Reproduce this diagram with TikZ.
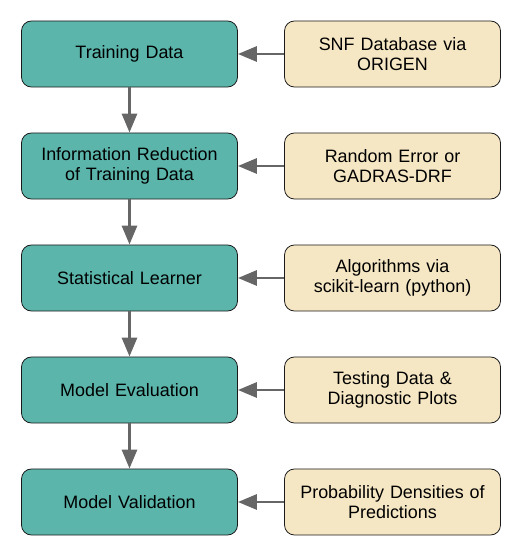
\documentclass[tikz,border=0pt]{standalone}
\usepackage{fontspec}
\setmainfont{Liberation Sans}
\definecolor{StepTeal}{HTML}{5BB5AB}
\definecolor{SourceCream}{HTML}{F6E7C4}
\definecolor{EdgeBlack}{HTML}{1A1A1A}
\definecolor{ArrowGray}{HTML}{666666}
\usetikzlibrary{arrows.meta, positioning}
\tikzset{
    % Box styles with rounded corners
    stage/.style={
        rectangle,
        rounded corners=10pt,
        draw=EdgeBlack,
        line width=0.8pt,
        fill=StepTeal,
        minimum width=7.62cm,
        minimum height=2.33cm,
        text width=7.2cm,
        align=center,
        inner sep=0pt,
        font=\fontsize{18}{20.5}\selectfont
    },
    stage source/.style={
        stage,
        fill=SourceCream
    },
    arrow style/.style={
        -{Triangle[length=19pt, width=15pt]},
        line width=3pt,
        ArrowGray
    }
}

\begin{document}
\begin{tikzpicture}
        \useasboundingbox (0, 0) rectangle (18.274, -19.579);

        % Main pipeline
        \node[stage] (training) at (4.568, -1.905) {Training Data};
        \node[stage] (reduction) at (4.568, -5.856) {Information Reduction\\of Training Data};
        \node[stage] (learner) at (4.568, -9.807) {Statistical Learner};
        \node[stage] (evaluation) at (4.568, -13.758) {Model Evaluation};
        \node[stage] (validation) at (4.568, -17.709) {Model Validation};

        % Inputs
        \node[stage source] (snf) at (13.847, -1.905) {SNF Database via\\ORIGEN};
        \node[stage source] (error) at (13.847, -5.856) {Random Error or\\GADRAS-DRF};
        \node[stage source] (algorithms) at (13.847, -9.807) {Algorithms via\\scikit-learn (python)};
        \node[stage source] (testing) at (13.847, -13.758) {Testing Data \&\\Diagnostic Plots};
        \node[stage source] (densities) at (13.847, -17.709) {Probability Densities of\\Predictions};

        % Arrows down
        \draw[arrow style] (training) -- (reduction);
        \draw[arrow style] (reduction) -- (learner);
        \draw[arrow style] (learner) -- (evaluation);
        \draw[arrow style] (evaluation) -- (validation);

        % Arrows in
        \draw[arrow style] (snf) -- (training);
        \draw[arrow style] (error) -- (reduction);
        \draw[arrow style] (algorithms) -- (learner);
        \draw[arrow style] (testing) -- (evaluation);
        \draw[arrow style] (densities) -- (validation);
    \end{tikzpicture}
\end{document}
